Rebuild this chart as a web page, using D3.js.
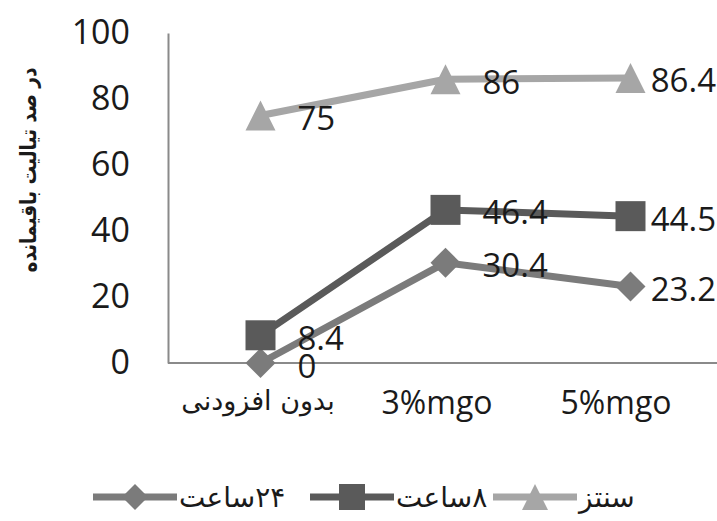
<!DOCTYPE html>
<html>
<head>
<meta charset="utf-8">
<script src="https://cdn.jsdelivr.net/npm/d3@7"></script>
<style>
  html, body { margin: 0; padding: 0; background: #fff; }
  svg { display: block; }
</style>
</head>
<body>
<svg id="chart" width="717" height="521"></svg>
<script>
// Categories along the x axis
const categories = ["بدون افزودنی", "3%mgo", "5%mgo"];
// Series names (legend text)
const seriesNames = ["۲۴ساعت", "۸ساعت", "سنتز"];
// Residual tialite percentage per series
const values24h = [0, 30.4, 23.2];
const values8h = [8.4, 46.4, 44.5];
const valuesSynth = [75, 86, 86.4];
// Y axis ticks
const yTicks = [0, 20, 40, 60, 80, 100];
const yTitle = "در صد تیالیت باقیمانده";

const W = 717, H = 521;
const RLM = "\u200F";
const svg = d3.select("#chart");

// Point positions of the series and (slightly narrower) category label positions
const x = d3.scalePoint().domain(categories).range([168, 723]).padding(0.5);
const xLabel = d3.scalePoint().domain(categories).range([168, 705]).padding(0.5);
const y = d3.scaleLinear().domain([0, 100]).range([363, 33]);

const series = [
  { name: seriesNames[0], values: values24h, color: "#7b7b7b", shape: "diamond" },
  { name: seriesNames[1], values: values8h, color: "#5a5a5a", shape: "square" },
  { name: seriesNames[2], values: valuesSynth, color: "#a6a6a6", shape: "triangle" }
];

function shapePath(shape, s) {
  const h = s / 2;
  if (shape === "diamond") return `M0,${-h}L${h},0L0,${h}L${-h},0Z`;
  if (shape === "square") return `M${-h},${-h}H${h}V${h}H${-h}Z`;
  return `M0,${-h}L${h},${h}L${-h},${h}Z`;
}

const digitFont = "'Open Sans', 'Liberation Sans', sans-serif";
const arabicFont = "'DejaVu Sans', 'Noto Sans', sans-serif";

// Y axis
const yAxis = d3.axisLeft(y).tickValues(yTicks).tickSize(0).tickPadding(38);
const gy = svg.append("g").attr("transform", "translate(168,0)").call(yAxis);
gy.select(".domain").attr("stroke", "#8a8a8a").attr("stroke-width", 2);
gy.selectAll("text")
  .attr("font-family", digitFont).attr("font-size", 34).attr("fill", "#1a1a1a");

// X axis: baseline runs to the right edge, labels from the label scale
svg.append("line")
  .attr("x1", 168).attr("x2", W)
  .attr("y1", y(0)).attr("y2", y(0))
  .attr("stroke", "#8a8a8a").attr("stroke-width", 2);
const xAxis = d3.axisBottom(xLabel).tickSize(0).tickPadding(28);
const gx = svg.append("g").attr("transform", `translate(0,${y(0)})`).call(xAxis);
gx.select(".domain").remove();
gx.selectAll("text")
  .attr("fill", "#1a1a1a")
  .attr("font-family", d => /[a-z]/.test(d) ? digitFont : arabicFont)
  .attr("font-size", d => /[a-z]/.test(d) ? 32 : 27);

// Y axis title
svg.append("text")
  .attr("transform", "translate(28,170) rotate(-90)")
  .attr("text-anchor", "middle")
  .attr("dominant-baseline", "central")
  .attr("font-family", arabicFont)
  .attr("font-weight", "bold")
  .attr("font-size", 22)
  .attr("textLength", 205)
  .attr("lengthAdjust", "spacingAndGlyphs")
  .attr("fill", "#1a1a1a")
  .text(yTitle);

// Series lines and markers
const line = d3.line().x((d, i) => x(categories[i])).y(d => y(d));
series.forEach(s => {
  const g = svg.append("g");
  g.append("path")
    .attr("d", line(s.values))
    .attr("fill", "none")
    .attr("stroke", s.color)
    .attr("stroke-width", 7)
    .attr("stroke-linejoin", "round");
  g.selectAll("path.m").data(s.values).join("path")
    .attr("class", "m")
    .attr("d", shapePath(s.shape, 30))
    .attr("transform", (d, i) => `translate(${x(categories[i])},${y(d)})`)
    .attr("fill", s.color);
});

// Value labels, kept inside the chart's right edge
series.forEach(s => {
  s.values.forEach((v, i) => {
    const t = svg.append("text")
      .attr("font-family", digitFont)
      .attr("font-size", 33)
      .attr("fill", "#1a1a1a")
      .attr("dominant-baseline", "central")
      .attr("y", y(v) + 2)
      .text(v);
    const w = t.node().getComputedTextLength();
    const px = Math.min(x(categories[i]) + 37, W - 1 - w);
    t.attr("x", px);
  });
});

// Legend
const legendY = 497;
const legendX = [93, 310, 493];
series.forEach((s, k) => {
  const g = svg.append("g").attr("transform", `translate(${legendX[k]},${legendY})`);
  g.append("line").attr("x1", 0).attr("x2", 84)
    .attr("stroke", s.color).attr("stroke-width", 7);
  g.append("path").attr("d", shapePath(s.shape, 26))
    .attr("transform", "translate(42,0)").attr("fill", s.color);
  g.append("text")
    .attr("x", 86)
    .attr("dominant-baseline", "central")
    .attr("font-family", arabicFont)
    .attr("font-size", 28)
    .attr("fill", "#1a1a1a")
    .text(RLM + s.name);
});
</script>
</body>
</html>
